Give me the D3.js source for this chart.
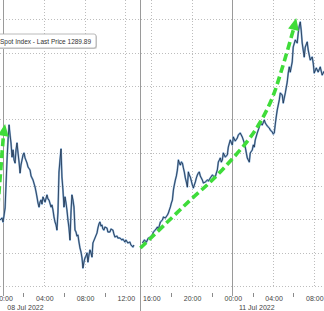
<!DOCTYPE html>
<html lang="en">
<head>
  <meta charset="utf-8" />
  <title>Spot Index</title>
  <script src="https://d3js.org/d3.v7.min.js"></script>
  <style>
    * { margin: 0; padding: 0; }
    html, body { background: #fff; width: 324px; height: 311px; overflow: hidden; }
    svg { display: block; font-family: "Liberation Sans", Arial, sans-serif; }
    .grid { stroke: #bdbdbd; stroke-width: 1; stroke-dasharray: 1,2; fill: none; }
    .sep { stroke: #9a9a9a; stroke-width: 1; }
    .tick { stroke: #8a8a8a; stroke-width: 1; }
    .lbl { fill: #444; font-size: 7px; }
  </style>
</head>
<body>
  <svg id="chart" width="324" height="311"></svg>
  <script>
    // session 1: hours from 08 Jul 00:00
    const s1Time = [-0.29, -0.10, 0, 0.20, 0.29, 0.39, 0.49, 0.59, 0.69, 0.78, 0.88, 0.98, 1.08, 1.18, 1.27, 1.37, 1.47, 1.57, 1.67, 1.76, 1.86, 1.96, 2.06, 2.16, 2.35, 2.45, 2.65, 2.75, 2.94, 3.14, 3.24, 3.33, 3.43, 3.53, 3.63, 3.73, 3.82, 3.92, 4.12, 4.31, 4.41, 4.51, 4.71, 4.80, 4.90, 5.00, 5.10, 5.20, 5.29, 5.39, 5.49, 5.59, 5.69, 5.78, 5.88, 5.98, 6.08, 6.18, 6.27, 6.37, 6.47, 6.57, 6.67, 6.76, 6.86, 6.96, 7.06, 7.16, 7.25, 7.35, 7.45, 7.55, 7.65, 7.75, 7.84, 7.94, 8.04, 8.14, 8.24, 8.33, 8.43, 8.53, 8.63, 8.73, 8.82, 9.02, 9.22, 9.31, 9.41, 9.51, 9.61, 9.71, 9.80, 9.90, 10.00, 10.20, 10.29, 10.49, 10.59, 10.78, 10.88, 10.98, 11.18, 11.27, 11.47, 11.67, 11.76, 11.96, 12.06, 12.25, 12.45, 12.55, 12.75, 12.84];
    const s1Price = [1280.96, 1281.08, 1280.84, 1281.68, 1283.06, 1284.56, 1285.76, 1286.66, 1286.06, 1285.58, 1284.74, 1285.16, 1284.56, 1284.38, 1285.16, 1285.58, 1284.98, 1284.44, 1283.78, 1284.26, 1284.56, 1284.86, 1284.98, 1284.68, 1284.38, 1284.14, 1283.96, 1283.60, 1283.36, 1282.94, 1282.64, 1282.34, 1281.98, 1281.74, 1282.04, 1282.16, 1281.92, 1282.34, 1282.04, 1282.46, 1282.22, 1282.16, 1281.74, 1281.86, 1281.56, 1281.14, 1280.84, 1280.66, 1280.36, 1281.44, 1283.84, 1284.56, 1285.22, 1283.54, 1282.76, 1281.74, 1282.34, 1281.98, 1281.56, 1280.96, 1280.48, 1279.76, 1281.44, 1282.46, 1282.16, 1281.74, 1280.36, 1280.24, 1280.00, 1280.06, 1279.64, 1279.28, 1279.04, 1278.68, 1278.08, 1278.44, 1278.68, 1278.80, 1278.98, 1278.44, 1278.86, 1279.16, 1278.98, 1278.74, 1279.58, 1279.88, 1280.18, 1280.48, 1280.72, 1280.84, 1280.60, 1280.66, 1280.42, 1280.36, 1280.54, 1280.48, 1280.24, 1280.24, 1280.42, 1280.36, 1280.12, 1279.94, 1280.00, 1279.88, 1279.88, 1279.76, 1279.82, 1279.64, 1279.76, 1279.58, 1279.64, 1279.46, 1279.34, 1279.46];

    // session 2: hours from 11 Jul 00:00 (negative = Sunday 10 Jul)
    const s2Time = [-8.82, -8.63, -8.43, -8.24, -8.04, -7.84, -7.75, -7.55, -7.35, -7.25, -7.06, -6.86, -6.76, -6.57, -6.37, -6.27, -6.18, -6.08, -5.98, -5.88, -5.78, -5.69, -5.59, -5.49, -5.39, -5.29, -5.20, -5.10, -5.00, -4.90, -4.80, -4.71, -4.61, -4.51, -4.41, -4.31, -4.22, -4.12, -4.02, -3.92, -3.82, -3.73, -3.63, -3.53, -3.43, -3.33, -3.24, -3.14, -2.94, -2.84, -2.65, -2.45, -2.35, -2.16, -1.96, -1.86, -1.67, -1.57, -1.47, -1.37, -1.27, -1.18, -1.08, -0.98, -0.88, -0.69, -0.49, -0.39, -0.20, 0, 0.10, 0.29, 0.49, 0.59, 0.78, 0.98, 1.18, 1.27, 1.47, 1.57, 1.67, 1.76, 1.96, 2.06, 2.16, 2.25, 2.45, 2.65, 2.75, 2.94, 3.14, 3.24, 3.43, 3.63, 3.73, 3.92, 4.02, 4.12, 4.22, 4.31, 4.41, 4.61, 4.71, 4.90, 5.00, 5.20, 5.39, 5.49, 5.59, 5.69, 5.88, 5.98, 6.18, 6.37, 6.47, 6.57, 6.67, 6.76, 6.86, 7.06, 7.16, 7.35, 7.45, 7.65, 7.84, 7.94, 8.04, 8.24, 8.43, 8.63, 8.82, 9.02];
    const s2Price = [1279.58, 1279.76, 1279.64, 1279.88, 1279.94, 1280.06, 1280.24, 1280.36, 1280.54, 1280.42, 1280.84, 1280.96, 1281.14, 1281.08, 1281.26, 1281.38, 1281.56, 1281.74, 1281.98, 1282.16, 1282.76, 1283.06, 1283.36, 1283.60, 1283.96, 1284.56, 1284.38, 1284.26, 1284.44, 1284.38, 1284.08, 1283.84, 1283.48, 1283.24, 1282.94, 1283.84, 1283.66, 1283.54, 1283.30, 1283.06, 1282.88, 1283.06, 1283.24, 1283.48, 1283.66, 1283.78, 1283.84, 1283.60, 1283.36, 1283.18, 1283.24, 1283.36, 1283.30, 1283.48, 1283.66, 1283.60, 1283.54, 1283.78, 1283.96, 1284.44, 1284.56, 1284.68, 1284.44, 1284.56, 1284.98, 1284.74, 1284.86, 1285.34, 1285.76, 1285.46, 1285.94, 1285.70, 1285.88, 1286.06, 1286.18, 1285.94, 1285.58, 1285.34, 1284.68, 1284.56, 1284.44, 1284.98, 1285.16, 1285.46, 1285.34, 1285.76, 1286.18, 1286.54, 1286.78, 1286.66, 1286.96, 1286.78, 1286.60, 1286.48, 1286.36, 1286.24, 1286.12, 1286.18, 1286.72, 1287.14, 1287.56, 1288.16, 1288.58, 1288.46, 1287.98, 1288.58, 1289.24, 1289.78, 1290.14, 1289.84, 1290.44, 1291.34, 1291.76, 1291.58, 1292.18, 1292.60, 1292.84, 1292.36, 1291.58, 1290.74, 1291.34, 1291.64, 1291.16, 1290.56, 1290.74, 1290.38, 1289.78, 1290.08, 1289.84, 1290.14, 1289.66, 1289.89];

    const lastPrice = 1289.89;
    const legendText = "Spot Index - Last Price " + lastPrice.toFixed(2);

    // green trend arrows (session hours, price); last entry is the tip
    const arrow1Time = [-0.69, 0, 0.2];
    const arrow1Price = [1280.36, 1285.94, 1286.72];
    const arrow2Time = [-9.02, -6.57, -4.12, -1.96, -0.10, 1.57, 2.75, 3.92, 4.90, 5.88, 6.27];
    const arrow2Price = [1279.28, 1280.72, 1282.16, 1283.36, 1284.56, 1285.76, 1286.84, 1288.28, 1290.08, 1292.04, 1293.08];

    // axis labels
    const majorTicks = [[1, 0, "00:00"], [1, 4, "04:00"], [1, 8, "08:00"], [1, 12, "12:00"], [2, -8, "16:00"], [2, -4, "20:00"], [2, 0, "00:00"], [2, 4, "04:00"], [2, 8, "08:00"]];
    const minorTicks = [[1, 2], [1, 6], [1, 10], [2, -6], [2, -2], [2, 2], [2, 6]];
    const dateLabels = [[1, 2.2, "08 Jul 2022"], [2, 2.4, "11 Jul 2022"]];
    const dayLines = [[1, 0, 296], [1, 13.47, 311], [2, 0, 296]];
    const priceGrid = d3.range(1277, 1294, 2);

    const W = 324, H = 311;
    const svg = d3.select("#chart");

    // session 2 is placed after session 1 with the weekend cut out
    const s2Offset = 22.5;
    const t = (s, h) => s === 1 ? h : h + s2Offset;
    const x = d3.scaleLinear().domain([-0.3, 31.5]).range([0, W]);
    const y = d3.scaleLinear().domain([1277, 1294.16]).range([286, 0]);
    const px = d => Math.round(x(t(d[0], d[1]))) + 0.5;

    // horizontal grid
    svg.append("g").selectAll("line").data(priceGrid).join("line")
      .attr("class", "grid")
      .attr("x1", 0).attr("x2", W)
      .attr("y1", d => Math.round(y(d)) + 0.5).attr("y2", d => Math.round(y(d)) + 0.5);

    // vertical grid (dotted) on labelled hours except midnight
    svg.append("g").selectAll("line").data(majorTicks.filter(d => d[2] !== "00:00")).join("line")
      .attr("class", "grid")
      .attr("x1", px).attr("x2", px)
      .attr("y1", 0).attr("y2", 287);

    // solid day separators
    svg.append("g").selectAll("line").data(dayLines).join("line")
      .attr("class", "sep")
      .attr("x1", px).attr("x2", px)
      .attr("y1", 0).attr("y2", d => d[2]);

    // minor ticks
    svg.append("g").selectAll("line").data(minorTicks).join("line")
      .attr("class", "tick")
      .attr("x1", px).attr("x2", px)
      .attr("y1", 293).attr("y2", 297);

    svg.append("g").selectAll("text").data(majorTicks).join("text")
      .attr("class", "lbl")
      .attr("x", d => x(t(d[0], d[1])) + 1)
      .attr("y", 300.5)
      .attr("text-anchor", "middle")
      .text(d => d[2]);

    svg.append("g").selectAll("text").data(dateLabels).join("text")
      .attr("class", "lbl")
      .attr("x", d => x(t(d[0], d[1])))
      .attr("y", 310)
      .attr("text-anchor", "middle")
      .text(d => d[2]);

    // price line
    const line = d3.line().x(d => x(d[0])).y(d => y(d[1]));
    const sessions = [
      s1Time.map((h, i) => [t(1, h), s1Price[i]]),
      s2Time.map((h, i) => [t(2, h), s2Price[i]])
    ];
    sessions.forEach(pts => {
      svg.append("path").datum(pts).attr("d", line)
        .attr("fill", "none").attr("stroke", "#86acd3").attr("stroke-width", 1.9)
        .attr("stroke-linejoin", "round");
      svg.append("path").datum(pts).attr("d", line)
        .attr("fill", "none").attr("stroke", "#1b2f4a").attr("stroke-width", 0.8)
        .attr("stroke-linejoin", "round");
    });

    // arrows
    function arrow(sess, times, prices) {
      const pts = times.map((h, i) => [x(t(sess, h)), y(prices[i])]);
      const tip = pts[pts.length - 1];
      const body = pts.slice(0, -1);
      const prev = body[body.length - 1];
      const dx = tip[0] - prev[0], dy = tip[1] - prev[1];
      const len = Math.hypot(dx, dy);
      const ux = dx / len, uy = dy / len;
      const hl = 12, hw = 5.5;
      const bx = tip[0] - ux * hl, by = tip[1] - uy * hl;
      body[body.length - 1] = [bx + ux * 2, by + uy * 2];
      svg.append("path")
        .attr("d", d3.line().curve(d3.curveCatmullRom)(body))
        .attr("fill", "none").attr("stroke", "#3fdc3a").attr("stroke-width", 3.6)
        .attr("stroke-dasharray", "8,4");
      svg.append("path")
        .attr("d", `M${tip[0]},${tip[1]}L${bx - uy * hw},${by + ux * hw}L${bx + uy * hw},${by - ux * hw}Z`)
        .attr("fill", "#3fdc3a");
    }
    arrow(1, arrow1Time, arrow1Price);
    arrow(2, arrow2Time, arrow2Price);

    // legend
    const lg = svg.append("g");
    lg.append("rect").attr("x", -5).attr("y", 35).attr("width", 102).attr("height", 14)
      .attr("rx", 2).attr("fill", "#cfcfcf");
    lg.append("rect").attr("x", -6).attr("y", 34).attr("width", 102).attr("height", 14)
      .attr("rx", 2).attr("fill", "#fff").attr("stroke", "#a8a8a8").attr("stroke-width", 0.8);
    lg.append("text").attr("x", 0).attr("y", 44).attr("fill", "#333")
      .attr("font-size", 7).attr("textLength", 91).attr("lengthAdjust", "spacingAndGlyphs")
      .text(legendText);
  </script>
</body>
</html>
